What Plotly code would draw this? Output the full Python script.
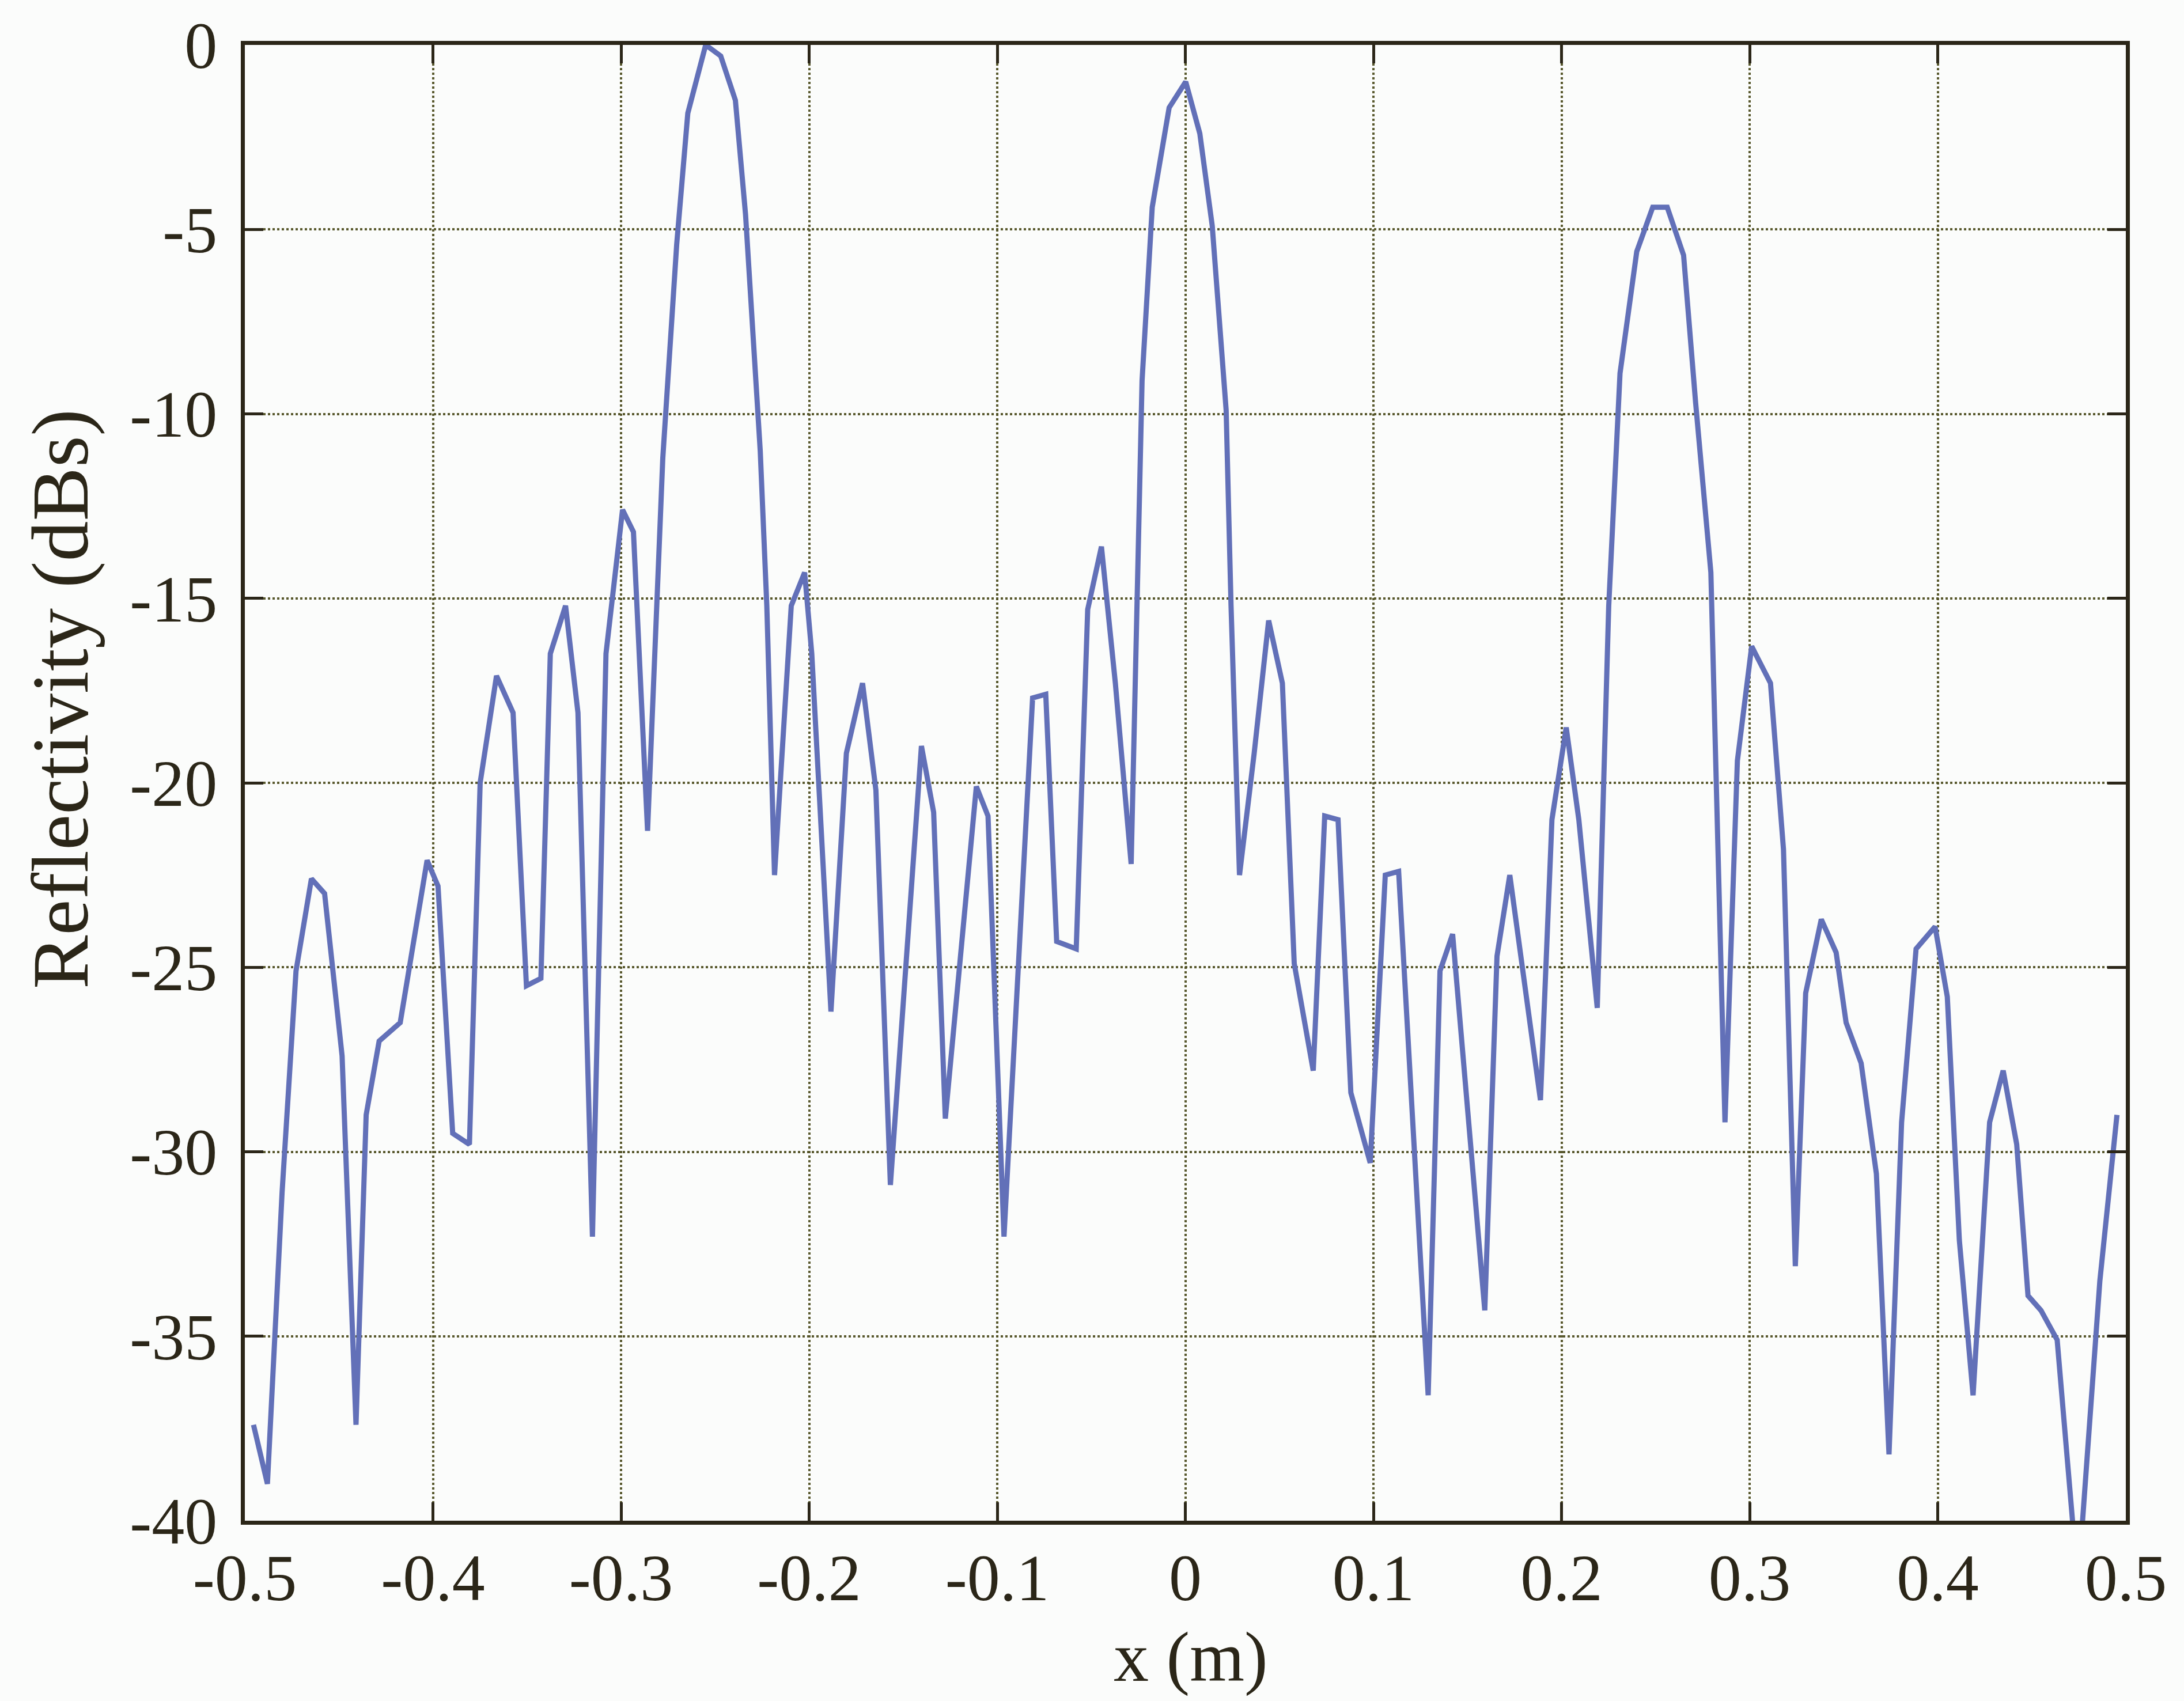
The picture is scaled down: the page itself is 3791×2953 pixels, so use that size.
import plotly.graph_objects as go

# ---- data ----
x_m = [-0.4954, -0.4880, -0.4802, -0.4728, -0.4646, -0.4576, -0.4483, -0.4409, -0.4355, -0.4286,
       -0.4174, -0.4031, -0.3973, -0.3895, -0.3806, -0.3749, -0.3662, -0.3574, -0.3503, -0.3426,
       -0.3376, -0.3295, -0.3229, -0.3152, -0.3080, -0.2992, -0.2934, -0.2859, -0.2778, -0.2704,
       -0.2645, -0.2550, -0.2470, -0.2392, -0.2338, -0.2260, -0.2225, -0.2184, -0.2095, -0.2024,
       -0.1986, -0.1884, -0.1802, -0.1716, -0.1645, -0.1568, -0.1403, -0.1338, -0.1276, -0.1111,
       -0.1049, -0.0964, -0.0812, -0.0742, -0.0684, -0.0580, -0.0519, -0.0446, -0.0372, -0.0288,
       -0.0230, -0.0176, -0.0086, 0.0002, 0.0077, 0.0143, 0.0217, 0.0243, 0.0288, 0.0366,
       0.0443, 0.0516, 0.0579, 0.0680, 0.0741, 0.0812, 0.0880, 0.0983, 0.1063, 0.1134,
       0.1291, 0.1354, 0.1421, 0.1485, 0.1592, 0.1657, 0.1725, 0.1888, 0.1949, 0.2025,
       0.2092, 0.2190, 0.2251, 0.2311, 0.2400, 0.2485, 0.2562, 0.2649, 0.2713, 0.2794,
       0.2869, 0.2935, 0.3011, 0.3111, 0.3180, 0.3243, 0.3298, 0.3381, 0.3460, 0.3513,
       0.3593, 0.3674, 0.3741, 0.3808, 0.3885, 0.3986, 0.4051, 0.4115, 0.4188, 0.4276,
       0.4348, 0.4420, 0.4480, 0.4549, 0.4635, 0.4725, 0.4763, 0.4862, 0.4953]

reflectivity_db = [-37.4, -39.0, -31.1, -25.1, -22.6, -23.0, -27.4, -37.4, -29.0, -27.0,
                   -26.5, -22.1, -22.8, -29.5, -29.8, -20.0, -17.1, -18.1, -25.5, -25.3,
                   -16.5, -15.2, -18.1, -32.3, -16.5, -12.6, -13.2, -21.3, -11.2, -5.4,
                   -1.85, 0.0, -0.3, -1.5, -4.6, -11.0, -15.2, -22.5, -15.2, -14.3,
                   -16.5, -26.2, -19.2, -17.3, -20.2, -30.9, -19.0, -20.8, -29.1, -20.1,
                   -20.9, -32.3, -17.7, -17.6, -24.3, -24.5, -15.3, -13.6, -17.3, -22.2,
                   -9.1, -4.4, -1.7, -1.0, -2.4, -4.9, -9.9, -15.2, -22.5, -19.2,
                   -15.6, -17.3, -24.9, -27.8, -20.9, -21.0, -28.4, -30.3, -22.5, -22.4,
                   -36.6, -25.1, -24.1, -27.9, -34.3, -24.7, -22.5, -28.6, -21.0, -18.5,
                   -21.0, -26.1, -15.2, -8.9, -5.6, -4.4, -4.4, -5.7, -9.7, -14.3,
                   -29.2, -19.4, -16.3, -17.3, -21.8, -33.1, -25.7, -23.7, -24.6, -26.5,
                   -27.6, -30.6, -38.2, -29.2, -24.5, -23.9, -25.8, -32.4, -36.6, -29.2,
                   -27.8, -29.8, -33.9, -34.3, -35.1, -40.5, -40.5, -33.5, -29.0]

x_tick_vals = [-0.5, -0.4, -0.3, -0.2, -0.1, 0, 0.1, 0.2, 0.3, 0.4, 0.5]
x_tick_text = ["-0.5", "-0.4", "-0.3", "-0.2", "-0.1", "0", "0.1", "0.2", "0.3", "0.4", "0.5"]
y_tick_vals = [0, -5, -10, -15, -20, -25, -30, -35, -40]
y_tick_text = ["0", "-5", "-10", "-15", "-20", "-25", "-30", "-35", "-40"]

x_title = "x (m)"
y_title = "Reflectivity (dBs)"

# ---- styling ----
FONT = "Liberation Serif"
INK = "#2b2618"
GRID = "rgba(80,80,35,0.95)"
LINE = "rgb(98,112,184)"
BG = "#fbfcfb"

fig = go.Figure()
fig.add_trace(go.Scatter(x=x_m, y=reflectivity_db, mode="lines",
                         line=dict(color=LINE, width=9), showlegend=False))

axis_common = dict(
    showline=True, linewidth=7, linecolor=INK, mirror="ticks",
    ticks="inside", ticklen=32, tickwidth=5, tickcolor=INK,
    showgrid=True, gridcolor=GRID, gridwidth=4, griddash="dot",
    zeroline=False,
    tickfont=dict(family=FONT, size=114, color=INK),
)

fig.update_xaxes(range=[-0.5, 0.5], tickvals=x_tick_vals, ticktext=x_tick_text,
                 ticklabelstandoff=-6, **axis_common)
fig.update_yaxes(range=[-40, 0], tickvals=y_tick_vals, ticktext=y_tick_text,
                 ticklabelstandoff=18, **axis_common)

fig.update_layout(
    width=3791, height=2953,
    margin=dict(l=425, r=101, t=78, b=313),
    paper_bgcolor=BG, plot_bgcolor=BG,
    annotations=[
        dict(text=x_title, xref="paper", yref="paper", x=0.503, y=-0.0925,
             showarrow=False, xanchor="center", yanchor="middle",
             font=dict(family=FONT, size=122, color=INK)),
        dict(text=y_title, xref="paper", yref="paper", x=-0.098, y=0.5566,
             showarrow=False, xanchor="center", yanchor="middle", textangle=-90,
             font=dict(family=FONT, size=140, color=INK)),
    ],
)

fig.write_html("out.html")
